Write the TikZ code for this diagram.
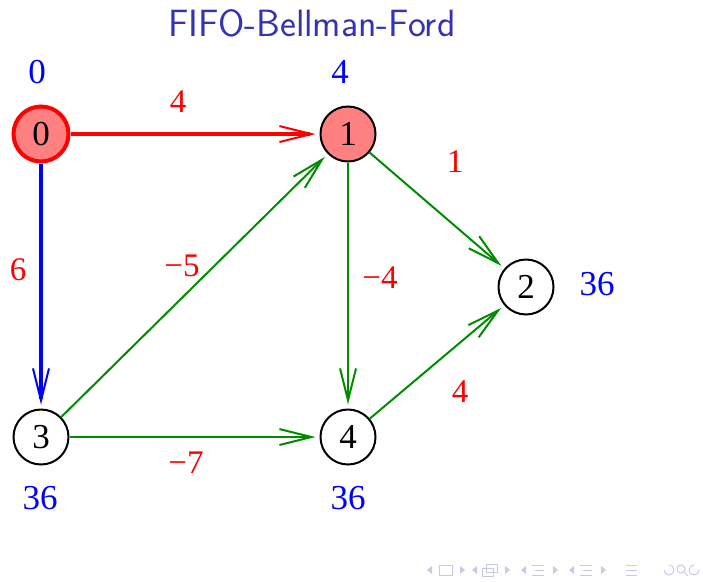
\documentclass[tikz,border=0pt]{standalone}
\usepackage{fontspec}
\setmainfont{Liberation Serif}
\usetikzlibrary{arrows.meta}
\definecolor{grn}{RGB}{0,140,0}
\definecolor{ttl}{RGB}{51,51,179}
\definecolor{vfill}{RGB}{255,128,128}
\definecolor{navc}{RGB}{200,200,235}
\begin{document}
\begin{tikzpicture}[x=1pt,y=-1pt,
 vert/.style={circle,draw=black,line width=2pt,minimum size=55pt,inner sep=0pt,font=\fontsize{35}{35}\selectfont},
 dist/.style={text=blue,font=\fontsize{35}{35}\selectfont},
 wt/.style={text=red,font=\fontsize{33}{33}\selectfont},
 tip/.style={-{Straight Barb[length=32pt,width=16pt,line width=2pt]},shorten >=4pt},
 gedge/.style={tip,draw=grn,line width=2pt},
 nav/.style={draw=navc,line width=1pt},
 navt/.style={fill=navc,draw=none},
]
\useasboundingbox (0,0) rectangle (703,581);
\node[text=ttl,font=\sffamily\fontsize{38}{38}\selectfont] (title) at (312,23) {FIFO-Bellman-Ford};

\node[vert,draw=red,line width=4pt,fill=vfill] (n0) at (41,134) {0};
\node[vert,fill=vfill] (n1) at (348,134) {1};
\node[vert] (n2) at (526,287) {2};
\node[vert] (n3) at (41,437) {3};
\node[vert] (n4) at (348,437) {4};

\node[dist] (d0) at (37,72) {0};
\node[dist] (d1) at (340,72) {4};
\node[dist] (d2) at (597,284) {36};
\node[dist] (d3) at (40,498) {36};
\node[dist] (d4) at (348,498) {36};

\draw[tip,draw=red,line width=4pt] (n0) -- (n1);
\draw[tip,draw=blue,line width=4pt] (n0) -- (n3);
\draw[gedge] (n3) -- (n1);
\draw[gedge] (n1) -- (n2);
\draw[gedge] (n1) -- (n4);
\draw[gedge] (n4) -- (n2);
\draw[gedge] (n3) -- (n4);

\node[wt] (w01) at (178,102) {4};
\node[wt] (w03) at (18,270) {6};
\node[wt] (w31) at (182,266) {−5};
\node[wt] (w14) at (380,278) {−4};
\node[wt] (w12) at (455,162) {1};
\node[wt] (w42) at (460,392) {4};
\node[wt] (w34) at (186,463) {−7};

% navigation symbols
\foreach \cx in {427,472,521,569} {
  \fill[navt] (\cx,570) -- (\cx+5,566) -- (\cx+5,574) -- cycle;
}
\foreach \cx in {460,505,553,601} {
  \fill[navt] (\cx+5,570) -- (\cx,566) -- (\cx,574) -- cycle;
}
\draw[nav] (439,565) rectangle (452,575);
\draw[nav] (482,568) rectangle (493,576);
\draw[nav] (486,564) rectangle (497,572);
\foreach \cx in {532,580} {
  \draw[nav] (\cx,565) -- (\cx+12,565);
  \draw[nav] (\cx+3,570) -- (\cx+12,570);
  \draw[nav] (\cx,575) -- (\cx+12,575);
}
\draw[nav] (626,565) -- (637,565);
\draw[nav] (626,570) -- (637,570);
\draw[nav] (626,575) -- (637,575);
\draw[nav] (664,570) arc (180:-90:5);
\draw[nav] (681,569) circle (4);
\draw[nav] (684,572) -- (688,576);
\draw[nav] (699,570) arc (0:270:5);
\end{tikzpicture}
\end{document}
